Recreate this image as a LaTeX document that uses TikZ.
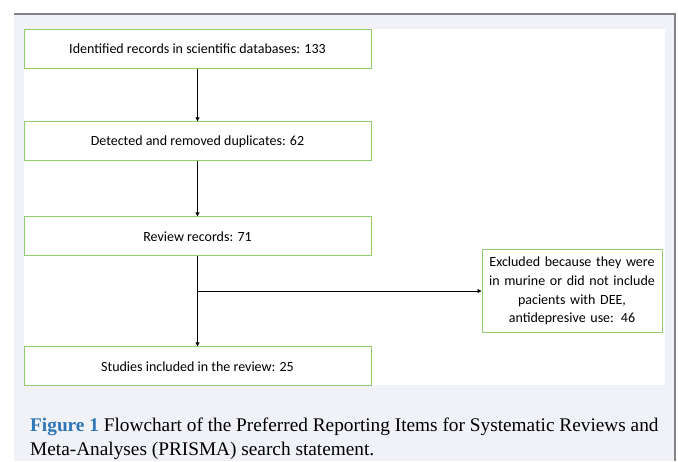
\documentclass[tikz,border=0pt]{standalone}
\usepackage{fontspec}
\setmainfont{Liberation Serif}
\newfontfamily\boxfont{Carlito}
\usetikzlibrary{arrows.meta,positioning}
\definecolor{panelgray}{RGB}{240,242,247}
\definecolor{framegray}{RGB}{130,130,135}
\definecolor{boxgreen}{RGB}{146,204,110}
\definecolor{figblue}{RGB}{46,117,182}

\begin{document}
\begin{tikzpicture}[x=1pt,y=-1pt,
    stage/.style={rectangle,draw=boxgreen,fill=white,line width=1pt,inner sep=0pt,
      minimum width=347pt,minimum height=39pt,align=center,
      font=\boxfont\fontsize{14}{19}\selectfont},
    excl/.style={rectangle,draw=boxgreen,fill=white,line width=1pt,inner sep=0pt,
      minimum width=180pt,minimum height=83pt,text width=176pt,align=center,
      font=\boxfont\fontsize{14}{18.7}\selectfont},
    flowarrow/.style={-{Triangle[length=4pt,width=4pt]},line width=0.9pt,draw=black},
    caption/.style={anchor=base west,align=left,inner sep=0pt,
      font=\fontsize{19.3}{24}\selectfont}
  ]
    \useasboundingbox (0,0) rectangle (678,461);
    % panel behind the chart
    \fill[panelgray] (14,14) rectangle (675,461);
    \draw[framegray,line width=1.2pt] (14,14) -- (675,14) -- (675,461);
    \fill[white] (24,29) rectangle (665,385);

    \node[stage] (ident) at (197.5,48.7) {Identified records in scientific databases: 133};
    \node[stage] (dupl) at (197.5,141.3) {Detected and removed duplicates: 62};
    \node[stage] (review) at (197.5,236.3) {Review records: 71};
    \node[stage] (incl) at (197.5,366.3) {Studies included in the review: 25};
    \node[excl] (excluded) at (572,291) {Excluded because they were\\in murine or did not include\\pacients with DEE,\\antidepresive use: 46};
    \coordinate (split) at (review.south |- excluded.west);

    \draw[flowarrow] (ident) -- (dupl);
    \draw[flowarrow] (dupl) -- (review);
    \draw[flowarrow] (review) -- (incl);
    \draw[flowarrow] (split) -- (excluded);

    \node[caption] (cap) at (30,455) {\textbf{\color{figblue}Figure 1} Flowchart of the Preferred Reporting Items for Systematic Reviews and\\Meta-Analyses (PRISMA) search statement.};
  \end{tikzpicture}
\end{document}
